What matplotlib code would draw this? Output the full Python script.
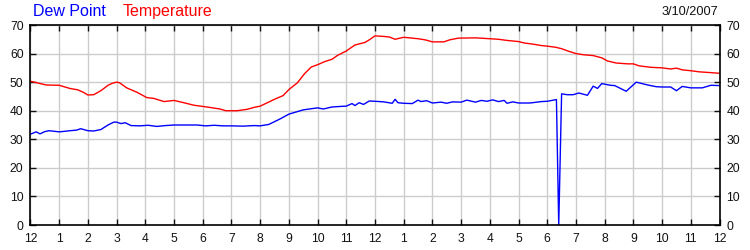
import matplotlib
matplotlib.use("Agg")
import matplotlib.pyplot as plt

plt.rcParams['font.family'] = ['Liberation Sans', 'DejaVu Sans']

# hours since midnight, readings in deg F
temp_hours = [0, 0.3, 0.55, 1.0, 1.37, 1.65, 1.85, 2.0, 2.2, 2.45, 2.7, 2.85, 3.0, 3.1,
              3.35, 3.7, 4.05, 4.3, 4.65, 5.0, 5.3, 5.7, 6.15, 6.6, 6.8, 7.2, 7.55,
              7.8, 8.0, 8.5, 8.8, 9.0, 9.3, 9.55, 9.78, 10.0, 10.25, 10.5, 10.7,
              11.0, 11.3, 11.65, 11.8, 12.0, 12.3, 12.5, 12.7, 13.0, 13.5, 13.75,
              14.0, 14.4, 14.6, 14.9, 15.5, 16.0, 16.3, 16.6, 17.0, 17.2, 17.5,
              17.8, 18.0, 18.3, 18.5, 18.75, 19.0, 19.25, 19.6, 19.9, 20.1, 20.4,
              20.8, 21.0, 21.2, 21.6, 22.0, 22.3, 22.5, 22.7, 23.0, 23.3, 23.6, 24.0]
temp_vals = [50.3, 49.6, 49.0, 48.9, 47.8, 47.3, 46.4, 45.5, 45.6, 47.0, 48.9, 49.6, 50.0, 49.8,
             48.0, 46.5, 44.6, 44.3, 43.2, 43.6, 42.9, 41.9, 41.3, 40.6, 40.0, 40.0, 40.5,
             41.2, 41.6, 44.0, 45.3, 47.4, 49.8, 53.0, 55.3, 56.1, 57.2, 58.0, 59.4,
             60.9, 63.0, 63.9, 64.8, 66.2, 66.0, 65.8, 65.0, 65.7, 65.2, 64.8,
             64.1, 64.1, 64.8, 65.4, 65.5, 65.2, 65.0, 64.6, 64.2, 63.7, 63.3,
             62.8, 62.6, 62.2, 61.7, 60.8, 60.0, 59.6, 59.3, 58.5, 57.4, 56.7,
             56.4, 56.4, 55.7, 55.2, 55.0, 54.6, 54.9, 54.3, 54.0, 53.6, 53.4, 53.1]

dew_hours = [0, 0.2, 0.33, 0.5, 0.65, 1.0, 1.2, 1.37, 1.6, 1.75, 2.0, 2.2, 2.45, 2.7,
             2.9, 3.0, 3.15, 3.3, 3.5, 3.8, 4.1, 4.4, 4.7, 5.0, 5.4, 5.8, 6.1, 6.4,
             6.7, 7.0, 7.4, 7.8, 8.0, 8.3, 8.67, 9.0, 9.5, 10.0, 10.2, 10.5, 10.8,
             11.0, 11.2, 11.3, 11.45, 11.6, 11.8, 12.0, 12.3, 12.6, 12.7, 12.8, 13.0,
             13.3, 13.5, 13.6, 13.8, 14.0, 14.3, 14.5, 14.7, 15.0, 15.2, 15.5,
             15.7, 15.9, 16.1, 16.3, 16.5, 16.6, 16.8, 17.0, 17.4, 17.8, 18.0,
             18.32, 18.4, 18.5, 18.7, 18.9, 19.1, 19.4, 19.6, 19.75, 19.9, 20.2,
             20.35, 20.75, 21.1, 21.5, 21.8, 22.0, 22.3, 22.5, 22.7, 23.0, 23.4,
             23.7, 24.0]
dew_vals = [31.8, 32.6, 31.9, 32.7, 33.0, 32.6, 32.8, 33.0, 33.2, 33.7, 33.0, 32.9, 33.4, 35.0,
            36.0, 36.0, 35.5, 35.8, 34.8, 34.7, 34.9, 34.5, 34.8, 35.0, 35.0, 35.0, 34.7, 34.9,
            34.7, 34.7, 34.6, 34.8, 34.7, 35.2, 37.0, 38.8, 40.3, 41.0, 40.6, 41.3, 41.5,
            41.6, 42.5, 41.8, 42.8, 42.2, 43.4, 43.3, 43.1, 42.6, 44.0, 42.8, 42.6,
            42.5, 43.7, 43.2, 43.5, 42.7, 43.0, 42.6, 43.1, 43.0, 43.7, 43.0,
            43.6, 43.3, 43.8, 43.2, 43.6, 42.6, 43.1, 42.7, 42.7, 43.2, 43.3,
            43.9, 0.0, 45.9, 45.6, 45.6, 46.2, 45.4, 48.6, 47.8, 49.5, 48.9,
            48.8, 46.8, 50.0, 49.0, 48.4, 48.3, 48.3, 47.0, 48.5, 48.0, 48.0,
            48.9, 48.8]

hour_labels = ['12', '1', '2', '3', '4', '5', '6', '7', '8', '9', '10', '11',
               '12', '1', '2', '3', '4', '5', '6', '7', '8', '9', '10', '11', '12']
y_ticks = [0, 10, 20, 30, 40, 50, 60, 70]

fig = plt.figure(figsize=(7.5, 2.5), dpi=100)
ax = fig.add_axes([30.5/750, 0.1, 689/750, 0.8])

ax.plot(temp_hours, temp_vals, color='#ff0000', lw=1.0)
ax.plot(dew_hours, dew_vals, color='#0000ff', lw=1.0)

ax.set_xlim(0, 24)
ax.set_ylim(0, 70)
ax.set_xticks(range(25))
ax.set_xticklabels(hour_labels)
ax.set_yticks(y_ticks)
ax.grid(True, color='#cccccc', lw=1.0)
ax.set_axisbelow(True)

for s in ax.spines.values():
    s.set_color('black')
    s.set_linewidth(1.2)

ax.tick_params(axis='both', direction='in', length=4, width=1, labelsize=8.7,
               colors='#111111', top=True, right=True, labelright=True)
ax.tick_params(axis='x', pad=6)
ax.tick_params(axis='y', pad=5)

fig.text(33/750, 1 - 4/250, 'Dew Point', color='#0000ff', fontsize=11.5, va='top', ha='left')
fig.text(123/750, 1 - 4/250, 'Temperature', color='#ff0000', fontsize=11.5, va='top', ha='left')
fig.text(718/750, 1 - 6/250, '3/10/2007', color='#111111', fontsize=9.2, va='top', ha='right')

fig.savefig('out.png', dpi=100)
